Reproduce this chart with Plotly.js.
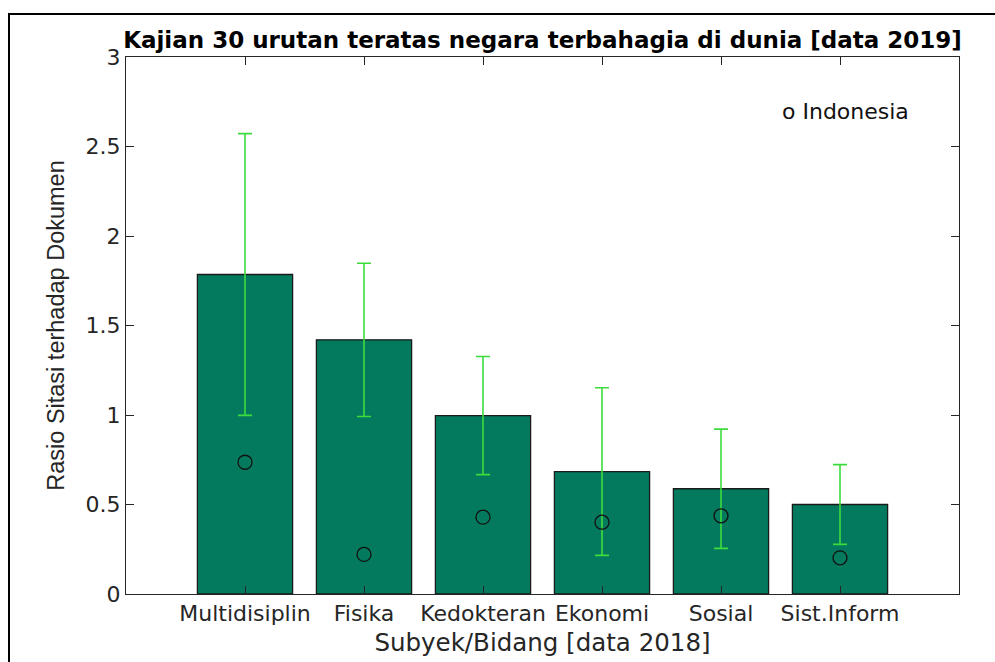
<!DOCTYPE html>
<html>
<head>
<meta charset="utf-8">
<script src="https://cdn.plot.ly/plotly-3.0.1.min.js"></script>
<style>html,body{margin:0;padding:0;background:#fff;overflow:hidden}#chart{width:995px;height:662px}</style>
</head>
<body>
<div id="chart"></div>
<script>
// ---- data ----
const categories = ["Multidisiplin", "Fisika", "Kedokteran", "Ekonomi", "Sosial", "Sist.Inform"];
const ratioValues = [1.785, 1.42, 0.997, 0.684, 0.588, 0.50];
const ratioErrors = [0.787, 0.428, 0.33, 0.468, 0.333, 0.223];
const indonesiaValues = [0.736, 0.221, 0.429, 0.401, 0.437, 0.202];
const yTickValues = [0, 0.5, 1, 1.5, 2, 2.5, 3];
const yTickLabels = ["0", "0.5", "1", "1.5", "2", "2.5", "3"];

const W = 995, H = 662;
const L = 126, R = 36, T = 57, B = 68;
const pw = W - L - R, ph = H - T - B;

const axisColor = "#262626";
const wideFont = "DejaVu Sans, Verdana, sans-serif";

const traces = [
  {
    type: "bar",
    x: categories,
    y: ratioValues,
    width: 0.8,
    marker: {color: "#037a5d", line: {color: "#1a1a1a", width: 1.3}},
    error_y: {type: "data", array: ratioErrors, visible: true, color: "#3ddc3d", thickness: 1.6, width: 7},
    showlegend: false,
    hoverinfo: "x+y"
  },
  {
    type: "scatter",
    mode: "markers",
    x: categories,
    y: indonesiaValues,
    name: "Indonesia",
    marker: {symbol: "circle-open", size: 14, color: "#111111", line: {width: 1.3}},
    showlegend: false
  }
];

const layout = {
  width: W, height: H,
  margin: {l: L, r: R, t: T, b: B, pad: 0},
  paper_bgcolor: "#ffffff",
  plot_bgcolor: "#ffffff",
  showlegend: false,
  title: {
    text: "<b>Kajian 30 urutan teratas negara terbahagia di dunia [data 2019]</b>",
    font: {family: wideFont, size: 23, color: "#000000"},
    x: 0.5, xref: "paper", xanchor: "center",
    y: 1 - 40 / H, yref: "container", yanchor: "middle"
  },
  xaxis: {
    type: "category",
    range: [-1, categories.length],
    showline: true, linecolor: axisColor, linewidth: 1,
    mirror: "ticks",
    ticks: "inside", ticklen: 8, tickcolor: axisColor, tickwidth: 1,
    showgrid: false, zeroline: false,
    tickfont: {family: wideFont, size: 22, color: "#262626"},
    title: {text: "Subyek/Bidang [data 2018]", font: {family: wideFont, size: 24.5, color: "#262626"}, standoff: 8}
  },
  yaxis: {
    range: [0, 3],
    tickvals: yTickValues, ticktext: yTickLabels,
    showline: true, linecolor: axisColor, linewidth: 1,
    mirror: "ticks",
    ticks: "inside", ticklen: 8, tickcolor: axisColor, tickwidth: 1,
    showgrid: false, zeroline: false,
    tickfont: {family: wideFont, size: 22, color: "#262626"},
    title: {text: "Rasio Sitasi terhadap Dokumen", font: {family: "Liberation Sans, Arial, sans-serif", size: 23.5, color: "#262626"}, standoff: 14}
  },
  annotations: [
    {
      text: "o Indonesia",
      xref: "paper", yref: "paper",
      x: (845 - L) / pw, y: (594 - 112) / ph,
      xanchor: "center", yanchor: "middle",
      showarrow: false,
      font: {family: wideFont, size: 22, color: "#111111"}
    }
  ],
  shapes: [
    {
      type: "rect", xref: "paper", yref: "paper", layer: "above",
      x0: (9 - L) / pw, x1: (W + 20 - L) / pw,
      y0: -(H + 20 - (T + ph)) / ph, y1: 1 + (T - 14) / ph,
      line: {color: "#000000", width: 2}, fillcolor: "rgba(0,0,0,0)"
    }
  ]
};

Plotly.newPlot("chart", traces, layout, {displayModeBar: false, staticPlot: true});
</script>
</body>
</html>
